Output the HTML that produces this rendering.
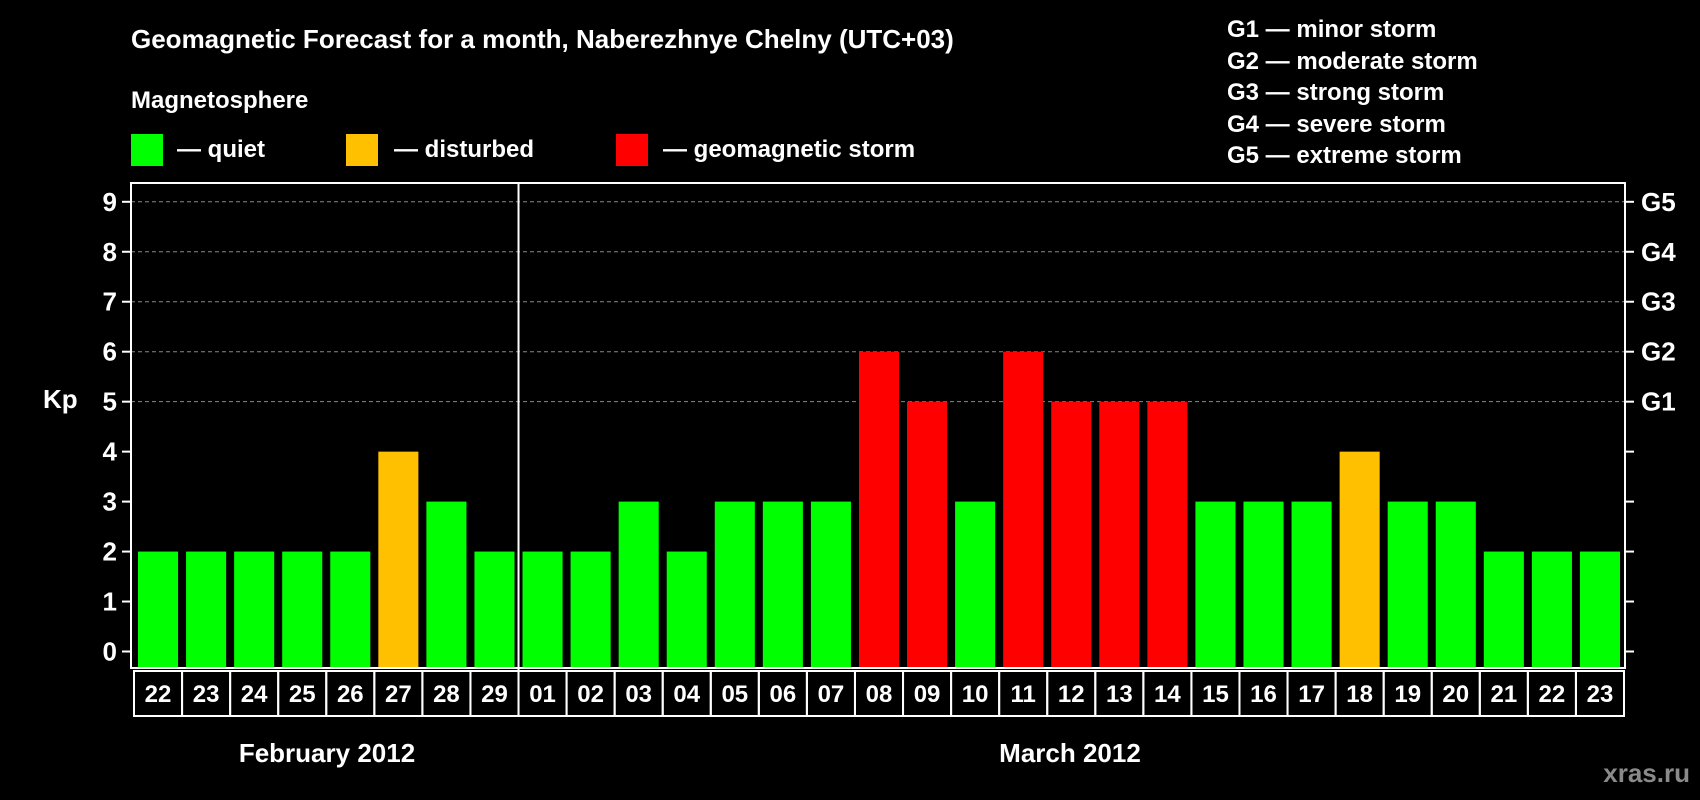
<!DOCTYPE html>
<html><head><meta charset="utf-8"><style>
html,body{margin:0;padding:0;background:#000;}
svg{display:block;font-family:"Liberation Sans",Arial,sans-serif;font-weight:bold;}
</style></head><body>
<svg id="chart" width="1700" height="800" viewBox="0 0 1700 800" xmlns="http://www.w3.org/2000/svg">
<rect width="1700" height="800" fill="#000"/>
<text x="131" y="48" fill="#fff" font-size="26">Geomagnetic Forecast for a month, Naberezhnye Chelny (UTC+03)</text>
<text x="131" y="108" fill="#fff" font-size="24">Magnetosphere</text>
<g>
<rect x="131" y="134" width="32" height="32" fill="#00ff00"/><text x="177" y="157" fill="#fff" font-size="24">— quiet</text></g>
<g>
<rect x="346" y="134" width="32" height="32" fill="#ffc000"/><text x="394" y="157" fill="#fff" font-size="24">— disturbed</text></g>
<g>
<rect x="616" y="134" width="32" height="32" fill="#ff0000"/><text x="663" y="157" fill="#fff" font-size="24">— geomagnetic storm</text></g>
<g fill="#fff" font-size="24">
<text x="1227" y="37">G1 — minor storm</text>
<text x="1227" y="69">G2 — moderate storm</text>
<text x="1227" y="100">G3 — strong storm</text>
<text x="1227" y="132">G4 — severe storm</text>
<text x="1227" y="163">G5 — extreme storm</text>
</g>
<text x="43" y="408" fill="#fff" font-size="26">Kp</text>
<g id="grid"></g><g id="bars"></g><g id="axes"></g><g id="dates"></g>
<text x="327" y="762" fill="#fff" font-size="26" text-anchor="middle">February 2012</text>
<text x="1070" y="762" fill="#fff" font-size="26" text-anchor="middle">March 2012</text>
<text x="1690" y="782" fill="#8a8a8a" font-size="26" text-anchor="end">xras.ru</text>
</svg>
<script>
const days = ["22","23","24","25","26","27","28","29","01","02","03","04","05","06","07","08","09","10","11","12","13","14","15","16","17","18","19","20","21","22","23"];
const kp = [2,2,2,2,2,4,3,2,2,2,3,2,3,3,3,6,5,3,6,5,5,5,3,3,3,4,3,3,2,2,2];
const yTicks = [0,1,2,3,4,5,6,7,8,9];
const gLabels = ["G1","G2","G3","G4","G5"];
const gLevels = [5,6,7,8,9];
const monthBreak = 8;

const NS="http://www.w3.org/2000/svg";
const L=131,R=1625,T=183,B=668;
const x0=134, pitch=(1624-134)/days.length;
function xs(i){return x0+i*pitch;}
function ys(v){return 651.5-v*(651.5-201.8)/9;}
function mk(tag,attrs,parent){const e=document.createElementNS(NS,tag);for(const k in attrs)e.setAttribute(k,attrs[k]);parent.appendChild(e);return e;}
const grid=document.getElementById('grid'),bars=document.getElementById('bars'),axes=document.getElementById('axes'),dates=document.getElementById('dates');
gLevels.forEach(v=>{
 const l=mk('line',{x1:L,x2:R,y1:ys(v),y2:ys(v),stroke:'#888','stroke-dasharray':'4,3','stroke-width':1},grid);
 
 
});
kp.forEach((v,i)=>{
 const c=v>=5?'#ff0000':(v>=4?'#ffc000':'#00ff00');
 const r=mk('rect',{x:xs(i)+4,width:pitch-8,y:ys(v),height:B-ys(v),fill:c},bars);
 
 
});
const fr=mk('rect',{x:L,y:T,width:R-L,height:B-T,fill:'none',stroke:'#fff','stroke-width':2},axes);


const sep=mk('line',{x1:xs(monthBreak),x2:xs(monthBreak),y1:T,y2:716,stroke:'#fff','stroke-width':2},axes);


yTicks.forEach(v=>{
 mk('line',{x1:L-9,x2:L,y1:ys(v),y2:ys(v),stroke:'#fff','stroke-width':2},axes);
 mk('line',{x1:R,x2:R+9,y1:ys(v),y2:ys(v),stroke:'#fff','stroke-width':2},axes);
 const t=mk('text',{x:117,y:ys(v)+9,fill:'#fff','font-size':26,'text-anchor':'end'},axes);
 t.textContent=v;
 
 
});
gLabels.forEach((g,i)=>{
 const t=mk('text',{x:1641,y:ys(gLevels[i])+9,fill:'#fff','font-size':26},axes);
 t.textContent=g;
 
 
});
days.forEach((d,i)=>{
 const b=mk('rect',{x:xs(i),y:671,width:pitch,height:45,fill:'none',stroke:'#fff','stroke-width':2},dates);
 
 
 const t=mk('text',{x:xs(i)+pitch/2,y:702,fill:'#fff','font-size':24,'text-anchor':'middle'},dates);
 t.textContent=d;
 
 
});
</script>
</body></html>
